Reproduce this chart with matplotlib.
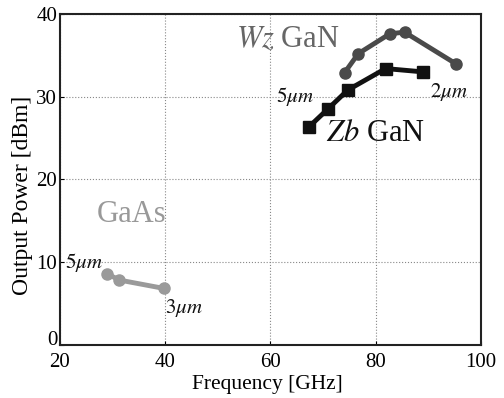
import matplotlib
matplotlib.use("Agg")
import matplotlib.pyplot as plt

wz_freq = [74.1, 76.7, 82.7, 85.5, 95.2]
wz_power = [32.9, 35.2, 37.6, 37.8, 34.0]
zb_freq = [67.4, 70.9, 74.7, 81.9, 89.0]
zb_power = [26.4, 28.5, 30.8, 33.4, 33.0]
gaas_freq = [29.0, 31.3, 39.7]
gaas_power = [8.6, 7.85, 6.85]
xticks = [20, 40, 60, 80, 100]
yticks = [0, 10, 20, 30, 40]

plt.rcParams['font.family'] = ['Liberation Serif', 'DejaVu Serif']
plt.rcParams['mathtext.fontset'] = 'stix'

fig = plt.figure(figsize=(5.04, 3.98), dpi=100)
ax = fig.add_axes([0.119, 0.133, 0.835, 0.832])

c_wz, c_zb, c_ga = '#4a4a4a', '#111111', '#9a9a9a'
ax.plot(wz_freq, wz_power, '-o', color=c_wz, lw=3.5, ms=8, zorder=3)
ax.plot(zb_freq, zb_power, '-s', color=c_zb, lw=3.5, ms=8, zorder=3)
ax.plot(gaas_freq, gaas_power, '-o', color=c_ga, lw=3.5, ms=8, zorder=3)

ax.set_xlim(20, 100)
ax.set_ylim(0, 40)
ax.set_xticks(xticks)
ax.set_yticks(yticks)
ax.tick_params(direction='in', length=3, labelsize=15)
ax.tick_params(axis='x', pad=6)
ax.tick_params(axis='y', pad=2)
ax.grid(True, linestyle=':', color='#888888', lw=0.8)
for s in ax.spines.values():
    s.set_linewidth(1.5)
    s.set_color('#222222')

fig.canvas.draw()
ax.get_yticklabels()[0].set_va('baseline')

ax.set_xlabel('Frequency [GHz]', fontsize=15.5, labelpad=0)
ax.xaxis.set_label_coords(0.493, -0.09)
ax.set_ylabel('Output Power [dBm]', fontsize=17, labelpad=2)
ax.yaxis.set_label_coords(-0.065, 0.453)

ax.text(53.5, 36.9, r'$\mathit{Wz}$ GaN', fontsize=22, color='#666666', va='center')
ax.text(70.5, 25.5, r'$\mathit{Zb}$ GaN', fontsize=22, color=c_zb, va='center')
ax.text(27, 15.8, 'GaAs', fontsize=22, color='#999999', va='center')
ax.text(61, 30.0, r'$5\mu m$', fontsize=15, color=c_zb, va='center')
ax.text(90.3, 30.6, r'$2\mu m$', fontsize=15, color=c_zb, va='center')
ax.text(21, 10.0, r'$5\mu m$', fontsize=15, color=c_zb, va='center')
ax.text(40, 4.5, r'$3\mu m$', fontsize=15, color=c_zb, va='center')

fig.savefig('out.png', dpi=100)
